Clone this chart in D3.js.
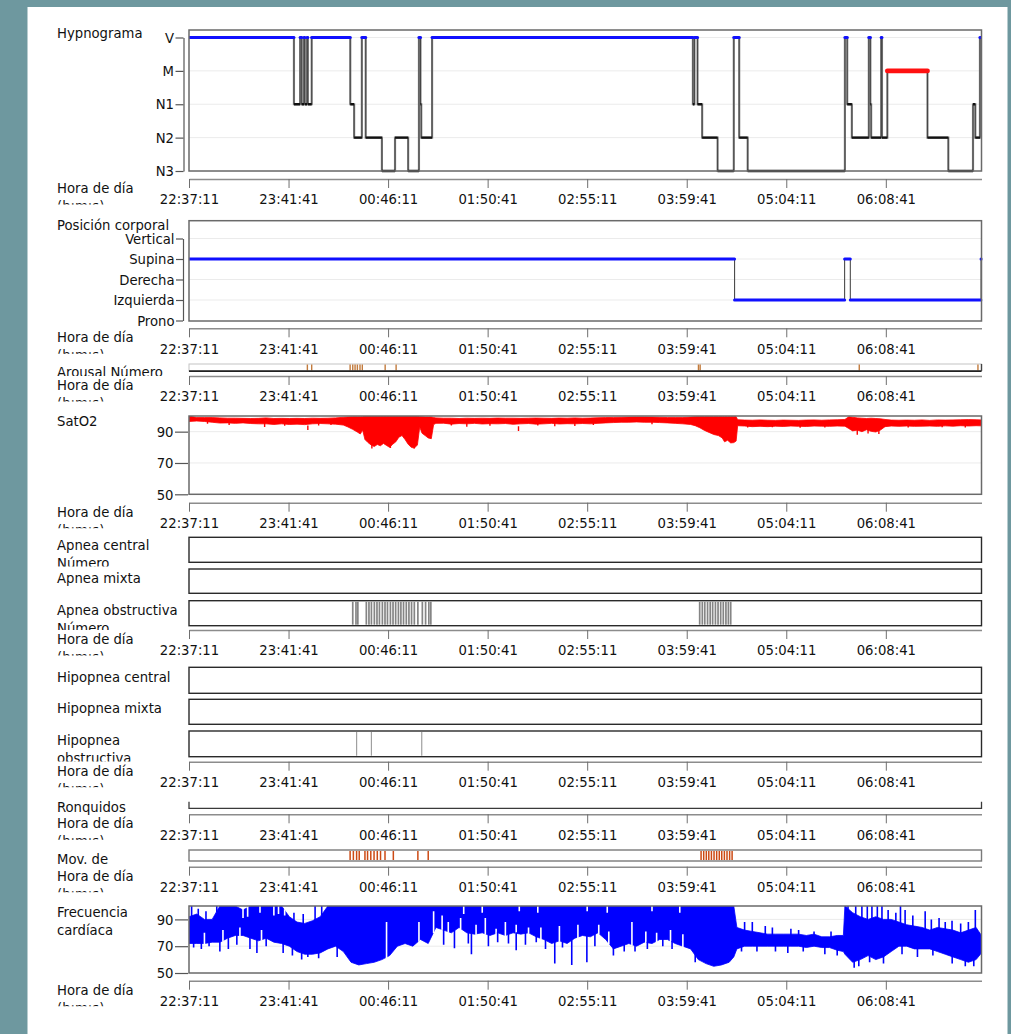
<!DOCTYPE html>
<html><head><meta charset="utf-8">
<script src="https://cdn.jsdelivr.net/npm/d3@7"></script>
<style>
html,body{margin:0;padding:0;background:#6e989f;}
svg{display:block}
text{font-family:'DejaVu Sans Condensed','DejaVu Sans',sans-serif;font-stretch:condensed;}
</style></head><body>
<svg id="chart" width="1011" height="1034"></svg>
<script>
// ---------------- DATA ----------------
const startTime = "22:37:11";
const endTime = "07:10:41";
const tickLabels = ["22:37:11","23:41:41","00:46:11","01:50:41","02:55:11","03:59:41","05:04:11","06:08:41"];

// Hypnogram (minutes from start, stage)
const hypnoLevels = ["V","M","N1","N2","N3"];
const hypnoTimes = [0,68,72,73,74.5,75,76.5,77,79.5,104.5,107,112,114.5,125,133.5,142,149,150,150.5,157.5,326.5,327.5,329.5,332.5,342.5,353,356.5,362,425,426.5,429.5,440.5,441.5,442,448.5,449,452.5,478.5,492,508,509.5,512.5];
const hypnoStages = ["V","N1","V","N1","V","N1","V","N1","V","N1","N2","V","N2","N3","N2","N3","V","N1","N2","V","N1","V","N1","N2","N3","V","N2","N3","V","N1","N2","V","N1","N2","V","N2","M","N2","N3","N1","N2","V"];

// Body position
const posLevels = ["Vertical","Supina","Derecha","Izquierda","Prono"];
const posTimes = [0,353.5,424.8,428.5,513.2];
const posValues = ["Supina","Izquierda","Supina","Izquierda","Supina"];

// Arousal events (minutes)
const arousalEvents = [76.7,79.5,104.4,106.1,107.6,109.1,110.8,112.3,127.1,134.2,330.1,331.2,434.3,511.2];

// SatO2 envelope [minute, low, high]
const satEnvelope = [
 [0,96.5,100],[5,96.8,99],[10,96.5,99],[15,96,99],[20,95.5,98.8],[25,95.6,98.6],[30,95.3,98.6],[35,95.6,98.5],
 [40,95.2,98.4],[45,95,98.5],[50,95,98.8],[55,94.6,98.4],[60,95,98.5],[65,94.6,98.4],[70,94.8,98.5],[75,94.5,98.4],
 [80,95,98.6],[85,95.2,98.5],[90,95,98.6],[95,94.8,98.8],[100,94.2,99.2],[103,93,99.4],[106,91.5,99.5],[109,89.8,99.5],
 [111,88.5,99.5],[112.5,91,99.6],[114,85,99.8],[116,83,99.8],[118,81.5,99.8],[120,80.5,99.8],[122,81.8,99.8],[124,81,99.8],
 [126,82.5,99.8],[128,81.2,99.8],[130,80,99.8],[132,82,99.8],[134,83.5,99.8],[136,86.5,99.8],[138,87.5,99.8],[140,85,99.8],
 [142,82,99.8],[144,80,99.8],[146,79.5,99.8],[148,81.5,99.8],[149.5,93,99.6],[151,89,99.5],[153,87.5,99.4],[155,86,99.4],
 [157,85.5,99.4],[158.5,94.5,99],[160,95.3,98.8],[165,95.4,98.6],[170,94.8,98.6],[175,95.2,98.4],[180,95,98.6],[185,95.3,98.5],
 [190,94.9,98.6],[195,95.1,98.5],[200,95,98.7],[205,95.2,98.6],[210,94.7,98.6],[215,95,98.5],[220,95.2,98.6],[225,94.8,98.7],
 [230,95,98.6],[235,95.3,98.5],[240,94.9,98.7],[245,95.1,98.6],[250,95,98.8],[255,95.2,98.6],[260,95,98.7],[265,95.3,98.9],
 [270,95.6,99],[275,95.8,99.1],[280,96,99.2],[285,96,99.3],[290,96.2,99.4],[295,96,99.4],[300,96,99.3],[305,95.8,99.2],
 [310,95.6,99],[315,95.3,99],[320,95,99],[325,94.6,99.3],[328,93.8,99.5],[331,92.5,99.6],[334,90.8,99.6],[337,89.5,99.6],
 [340,88.2,99.6],[343,87.5,99.6],[345.5,86,99.6],[347,83.5,99.6],[349,84.5,99.6],[351,82.8,99.6],[353,83,99.6],[354.5,84,99.6],
 [355.5,93.8,97.6],[360,93.6,97.4],[365,93.2,97.3],[370,93.4,97.5],[375,93.2,97.3],[380,93.5,97.2],[385,93.3,97.4],[390,93.6,97.3],
 [395,93.4,97.2],[400,93.3,97.4],[405,93.6,97.5],[410,93.5,97.3],[415,93.4,97.5],[420,93.6,97.6],[425,93.5,97.8],[427.5,92,99.5],
 [430,90.5,99.2],[433,91,98.8],[436,90,98.6],[439,91.2,98.4],[442,90.2,98.6],[445,89.8,98.4],[448,91,98.2],[451,93.2,97.8],
 [455,93.6,97.4],[460,93.4,97.3],[465,93.6,97.4],[470,93.4,97.3],[475,93.5,97.5],[480,93.6,97.2],[485,93.4,97.5],[490,93.7,97.4],
 [495,93.5,97.5],[500,93.8,97.6],[505,93.6,97.7],[510,93.8,97.6],[513.5,93.7,97.5]
];
const satSpikes = [[12,95],[26,94.2],[49,93],[62,93.8],[77,91],[84,94],[92,94.2],[118.5,79.2],[130.5,79.5],[146,79.2],
  [170,94],[180,93.2],[195,93.8],[213.5,90.5],[226,94],[237,93.4],[250,93.6],[262,94.2],[300,94.8],
  [362,92.6],[378,92.8],[396,92.5],[412,92.7],[433,88],[440,88.8],[447,88.5],[466,92.6],[488,92.8],[503,92.7]];

// Respiratory events (minutes)
const apneaCentral = [];
const apneaMixed = [];
const apneaObstructive = [106.1,108.2,109.4,114.9,116.6,118.2,120.1,121.8,123.4,125.3,127.0,128.6,130.5,132.2,133.9,135.7,137.3,139.0,140.8,142.5,144.2,146.0,148.3,151.2,153.3,155.4,156.7,
  330.9,332.6,334.2,336.0,337.7,339.3,341.1,342.8,344.5,346.2,347.9,349.5,351.0];
const hypopneaCentral = [];
const hypopneaMixed = [];
const hypopneaObstructive = [108.6,118.2,150.8];
const snoreEvents = [];
const legMovements = [104.4,106.5,108.6,110.3,114.0,115.7,117.8,119.9,122.0,124.1,127.0,132.4,148.3,155.0,
  331.8,333.5,335.2,336.8,338.5,340.2,341.9,343.6,345.2,346.9,348.6,350.3,351.9];

// Heart rate envelope [minute, low, high]
const hrEnvelope = [
 [0,72,92],[5,72,94],[10,72,90],[15,73,90],[20,73,100],[25,76,100],[30,78,100],[35,78,97],[40,76,100],[45,74,100],
 [50,76,100],[55,73,100],[60,72,100],[65,70,92],[70,66,88],[75,64,87],[80,64,89],[85,65,92],[90,68,100],[95,70,100],
 [100,66,100],[105,58,100],[110,56,100],[115,57,100],[120,58,100],[125,60,100],[130,63,100],[135,70,100],[140,72,100],[145,70,100],
 [150,75,100],[155,72,100],[160,84,100],[165,82,100],[170,80,100],[175,84,100],[180,80,100],[185,79,100],[190,80,100],[195,78,100],
 [200,80,100],[205,78,100],[210,80,100],[215,79,100],[220,80,100],[225,77,100],[230,75,100],[235,72,100],[240,74,100],[245,72,100],
 [250,76,100],[255,78,100],[260,77,100],[265,80,100],[270,75,100],[275,68,100],[280,70,100],[285,72,100],[290,70,100],[295,73,100],
 [300,72,100],[305,75,100],[310,75,100],[315,72,100],[320,70,100],[325,68,100],[330,60,100],[335,57,100],[340,55,100],[345,56,100],
 [350,58,100],[353,62,100],[355,68,84],[360,70,82],[365,70,81],[370,70,80],[375,70,79],[380,70,79],[385,70,79],[390,70,79],
 [395,70,79],[400,69,78],[405,70,79],[410,69,77],[415,69,77],[420,67,78],[424,66,78],[425,64,100],[430,58,95],[435,60,92],
 [440,63,90],[445,60,92],[450,62,90],[455,66,90],[460,70,88],[465,70,86],[470,68,85],[475,68,84],[480,68,82],[485,66,84],
 [490,64,83],[495,62,82],[500,60,80],[505,58,82],[510,60,84],[513.5,65,78]
];
const hrSpikesDown = [[3,69],[8,68],[13,70],[20,66],[25.5,68],[31,71],[39.5,68],[44,65],[50,70],[61,65],[67,63],[73,60],[77,62],[84,61],[96,62],
  [165,71],[172,68.5],[181,72],[183,64],[194,70],[200,73],[207,72],[212,67],[218,71],[225,73],[231,68],[237,57],[242,69],[248,56],
  [257.8,58],[263,70],[275,63],[282,66],[289,66],[297,68],[307,70],[313,68],[328,58],[358,66],[368,66],[380,66],[388,65],[398,66],[412,64],[420,63],
  [431,54],[434,55],[441,58],[450,57],[462,64],[472,62],[482,63],[494.5,57],[503,55],[508.5,55]];
const hrSpikesUp = [[1.7,100],[6,98],[11,96],[18,100],[68,95],[74,94],[81.7,100],[86,100],[360,88],[365,88],[373.4,85],[378,84],[390,83],[395,82],[405,81],[416,81],
  [425.5,100],[427,100],[432,100],[436,100],[439.5,100],[442.5,100],[446,100],[449,100],[453,97],[458,95],[461,100],[464,97],[469,93],[477,96],[481,90],[486,91],[490,88],[494.4,89],[500,87],[505,88],[509.5,97]];
const hrGapsFromLow = [[10,80],[22,82],[33,84],[47,82],[128,88],[149,88],[158.5,96],[164,93],[168,88],[176,91],[186,86],[192,91],[199,83],[205,88],[212,86],
  [220,84],[228,84],[240,85],[252,86],[265.5,86],[272,81],[287,88],[296,81],[303,80],[312,82],[320,79]];
const hrGapsFromHigh = [[35,91],[38,92],[46,95],[55,93],[58,94],[62,93],[178,94],[190,95],[214,96],[226,95],[258,96],[271,95],[300,96],[318,95]];

// ---------------- DRAWING ----------------
const FONT = 14.7;
const svg = d3.select('#chart');
svg.append('rect').attr('width',1011).attr('height',1034).attr('fill','#6e989f');
svg.append('rect').attr('x',27.5).attr('y',7).attr('width',980).attr('height',1030).attr('fill','#ffffff');

function toMin(s){
  const [h,m,sec] = s.split(':').map(Number);
  const [h0,m0,s0] = startTime.split(':').map(Number);
  let t = (h*3600+m*60+sec - (h0*3600+m0*60+s0))/60;
  if (t < 0) t += 1440;
  return t;
}
const totalMin = toMin(endTime);
const tickMins = tickLabels.map(toMin);
const X0 = 189, X1 = 981.5;
const x = d3.scaleLinear().domain([0,totalMin]).range([X0,X1]);

let clipId = 0;
function clipRect(x0,y0,w,h){
  const id = 'cp'+(clipId++);
  svg.append('clipPath').attr('id',id).append('rect').attr('x',x0).attr('y',y0).attr('width',w).attr('height',h);
  return 'url(#'+id+')';
}

function addLabel(lines, cy, clipBottom){
  const g = svg.append('g');
  if (clipBottom != null) g.attr('clip-path', clipRect(40, cy-20, 140, clipBottom-(cy-20)));
  lines.forEach((l,i)=>{
    g.append('text').attr('x',57).attr('y',cy+i*18+5).attr('fill','#111').style('font-size',FONT+'px').text(l);
  });
}

function xAxisAt(y){
  const g = svg.append('g').attr('transform',`translate(0,${y})`)
    .call(d3.axisBottom(x).tickValues(tickMins).tickFormat(d=>tickLabels[tickMins.indexOf(d)])
      .tickSize(9).tickSizeOuter(0).tickPadding(6));
  g.attr('font-size',null).attr('font-family',null);
  g.select('.domain').attr('stroke','#8c8c8c').attr('stroke-width',1.6);
  g.selectAll('.tick line').attr('stroke','#6f6f6f');
  g.selectAll('.tick text').attr('fill','#111').style('font-size',FONT+'px');
  addLabel(["Hora de día","(h:m:s)"], y+9, y+25.5);
}

function frame(y0,y1,stroke,sw){
  svg.append('rect').attr('x',X0).attr('y',y0).attr('width',X1-X0).attr('height',y1-y0)
    .attr('fill','none').attr('stroke',stroke).attr('stroke-width',sw);
}
function grid(ys){
  ys.forEach(yy=>svg.append('line').attr('x1',X0).attr('x2',X1).attr('y1',yy).attr('y2',yy)
    .attr('stroke','#ebebeb').attr('stroke-width',1));
}
function yAxisAt(scale, xpos, size, keepDomain, tickVals){
  const ax = d3.axisLeft(scale).tickSize(size).tickSizeOuter(0).tickPadding(1.5);
  if (tickVals) ax.tickValues(tickVals);
  const g = svg.append('g').attr('transform',`translate(${xpos},0)`).call(ax);
  g.attr('font-size',null).attr('font-family',null);
  if (keepDomain) g.select('.domain').attr('stroke','#555').attr('stroke-width',1.2);
  else g.select('.domain').remove();
  g.selectAll('.tick line').attr('stroke','#555').attr('stroke-width',1.2);
  g.selectAll('.tick text').attr('fill','#111').style('font-size',FONT+'px');
}

// ---- Hypnogram ----
const yH = d3.scalePoint().domain(hypnoLevels).range([37.5,171]);
grid(hypnoLevels.map(l=>yH(l)));
{
  const pts = hypnoTimes.map((t,i)=>[x(t), yH(hypnoStages[i])]);
  pts.push([x(totalMin), yH(hypnoStages[hypnoStages.length-1])]);
  const gH = svg.append('g').attr('clip-path', clipRect(X0, 28, X1-X0, 146));
  gH.append('path').attr('d', d3.line().curve(d3.curveStepAfter)(pts))
    .attr('fill','none').attr('stroke','#8a8a8a').attr('stroke-width',2.2);
  gH.append('path').attr('d', d3.line().curve(d3.curveStepAfter)(pts))
    .attr('fill','none').attr('stroke','#333').attr('stroke-width',0.8);
  hypnoTimes.forEach((t,i)=>{
    const t1 = i < hypnoTimes.length-1 ? hypnoTimes[i+1] : totalMin;
    const st = hypnoStages[i];
    const col = st==='V' ? '#1010ff' : st==='M' ? '#ff1010' : '#111';
    const w = st==='V' ? 3 : st==='M' ? 4.8 : 2.4;
    gH.append('line').attr('x1',x(t)).attr('x2',x(t1)).attr('y1',yH(st)).attr('y2',yH(st))
      .attr('stroke',col).attr('stroke-width',w).attr('stroke-linecap', (st==='V'||st==='M')?'round':'butt');
  });
}
frame(30,171,'#6a6a6a',1.5);
yAxisAt(yH, 183.5, 8, true);
addLabel(["Hypnograma"], 33, null);
xAxisAt(179);

// ---- Body position ----
const yP = d3.scalePoint().domain(posLevels).range([238.5,320.5]);
grid(posLevels.slice(0,4).map(l=>yP(l)));
{
  const pts = posTimes.map((t,i)=>[x(t), yP(posValues[i])]);
  pts.push([x(totalMin), yP(posValues[posValues.length-1])]);
  const gP = svg.append('g').attr('clip-path', clipRect(X0, 219, X1-X0+1, 103));
  gP.append('path').attr('d', d3.line().curve(d3.curveStepAfter)(pts))
    .attr('fill','none').attr('stroke','#4a4a4a').attr('stroke-width',1.1);
  posTimes.forEach((t,i)=>{
    const t1 = i < posTimes.length-1 ? posTimes[i+1] : totalMin;
    gP.append('line').attr('x1',x(t)).attr('x2',x(t1)).attr('y1',yP(posValues[i])).attr('y2',yP(posValues[i]))
      .attr('stroke','#1010ff').attr('stroke-width',3).attr('stroke-linecap','round');
  });
}
frame(220.7,321,'#6a6a6a',1.5);
yAxisAt(yP, 183, 7, true);
addLabel(["Posición corporal"], 225, null);
xAxisAt(328.3);

// ---- Arousal ----
svg.append('rect').attr('x',X0).attr('y',364).attr('width',X1-X0).attr('height',7)
  .attr('fill','none').attr('stroke','#c4c4c4').attr('stroke-width',1);
arousalEvents.forEach(t=>svg.append('line').attr('x1',x(t)).attr('x2',x(t)).attr('y1',364.5).attr('y2',370.5)
  .attr('stroke','#c27a3c').attr('stroke-width',1.4));
svg.append('line').attr('x1',X0).attr('x2',X1).attr('y1',371.2).attr('y2',371.2).attr('stroke','#222').attr('stroke-width',1.8);
svg.append('line').attr('x1',X1).attr('x2',X1).attr('y1',364).attr('y2',371).attr('stroke','#444').attr('stroke-width',1.4);
addLabel(["Arousal Número"], 372, 376);
xAxisAt(376);

// ---- SatO2 ----
const yS = d3.scaleLinear().domain([50,100]).range([494.3,416]);
grid([yS(90),yS(70)]);
{
  const gS = svg.append('g').attr('clip-path', clipRect(X0, 416, X1-X0, 78.3));
  gS.append('path').datum(satEnvelope)
    .attr('d', d3.area().x(d=>x(d[0])).y0(d=>yS(d[1])).y1(d=>yS(d[2])))
    .attr('fill','#ff0000').attr('stroke','#ff0000').attr('stroke-width',0.8);
  satSpikes.forEach(s=>gS.append('line').attr('x1',x(s[0])).attr('x2',x(s[0])).attr('y1',yS(s[1]+3)).attr('y2',yS(s[1]))
    .attr('stroke','#ff0000').attr('stroke-width',1.4));
}
frame(416,494.3,'#6a6a6a',1.5);
yAxisAt(yS, 188, 13, false, [50,70,90]);
addLabel(["SatO2"], 421, null);
xAxisAt(502.7);

// ---- Event strips ----
function strip(y0,y1,events,color,sw,stroke){
  svg.append('rect').attr('x',X0).attr('y',y0).attr('width',X1-X0).attr('height',y1-y0)
    .attr('fill','#fff').attr('stroke',stroke||'#2a2a2a').attr('stroke-width',1.4);
  events.forEach(t=>svg.append('line').attr('x1',x(t)).attr('x2',x(t)).attr('y1',y0+1).attr('y2',y1-1)
    .attr('stroke',color).attr('stroke-width',sw));
}
strip(537.3,562.3,apneaCentral,'#888',1.3);
strip(569,593.3,apneaMixed,'#888',1.3);
strip(600.7,625.7,apneaObstructive,'#858585',1.7);
addLabel(["Apnea central","Número"], 545, 566.5);
addLabel(["Apnea mixta"], 577.7, null);
addLabel(["Apnea obstructiva","Número"], 610, 630);
xAxisAt(630);

strip(667.3,693.3,hypopneaCentral,'#999',1.2);
strip(699.3,724.3,hypopneaMixed,'#999',1.2);
strip(731,756.7,hypopneaObstructive,'#a0a0a0',1.2);
addLabel(["Hipopnea central"], 676.7, null);
addLabel(["Hipopnea mixta"], 708.3, null);
addLabel(["Hipopnea","obstructiva"], 740, 761.5);
xAxisAt(761.7);

// Ronquidos
svg.append('path').attr('d',`M${X0},801.7V808.3H${X1}V801.7`).attr('fill','none').attr('stroke','#3a3a3a').attr('stroke-width',1.3);
snoreEvents.forEach(t=>svg.append('line').attr('x1',x(t)).attr('x2',x(t)).attr('y1',802).attr('y2',808).attr('stroke','#888'));
addLabel(["Ronquidos"], 807, null);
xAxisAt(814.3);

// Mov. de piernas
strip(850,861,legMovements,'#cc4a14',1.5,'#7a7a7a');
addLabel(["Mov. de"], 859, 865);
xAxisAt(866.7);

// ---- Heart rate ----
const yR = d3.scaleLinear().domain([50,100]).range([973,906]);
grid([yR(90),yR(70)]);
{
  const gR = svg.append('g').attr('clip-path', clipRect(X0, 906, X1-X0, 67));
  gR.append('path').datum(hrEnvelope)
    .attr('d', d3.area().x(d=>x(d[0])).y0(d=>yR(d[1])).y1(d=>yR(d[2])))
    .attr('fill','#0000ff').attr('stroke','#0000ff').attr('stroke-width',0.8);
  const lowAt = d3.scaleLinear().domain(hrEnvelope.map(d=>d[0])).range(hrEnvelope.map(d=>d[1]));
  const highAt = d3.scaleLinear().domain(hrEnvelope.map(d=>d[0])).range(hrEnvelope.map(d=>d[2]));
  hrGapsFromLow.forEach(s=>gR.append('line').attr('x1',x(s[0])).attr('x2',x(s[0])).attr('y1',yR(lowAt(s[0]))+1).attr('y2',yR(s[1]))
    .attr('stroke','#fff').attr('stroke-width',1.6));
  hrGapsFromHigh.forEach(s=>gR.append('line').attr('x1',x(s[0])).attr('x2',x(s[0])).attr('y1',yR(highAt(s[0]))-1).attr('y2',yR(s[1]))
    .attr('stroke','#fff').attr('stroke-width',1.6));
  hrSpikesDown.forEach(s=>gR.append('line').attr('x1',x(s[0])).attr('x2',x(s[0])).attr('y1',yR(lowAt(s[0]))-1).attr('y2',yR(s[1]))
    .attr('stroke','#0000ff').attr('stroke-width',1.6));
  hrSpikesUp.forEach(s=>gR.append('line').attr('x1',x(s[0])).attr('x2',x(s[0])).attr('y1',yR(highAt(s[0]))+1).attr('y2',yR(s[1]))
    .attr('stroke','#0000ff').attr('stroke-width',1.6));
}
frame(906,973,'#6a6a6a',1.5);
yAxisAt(yR, 188, 13, false, [50,70,90]);
addLabel(["Frecuencia","cardíaca"], 912, null);
xAxisAt(980.7);
</script></body></html>
